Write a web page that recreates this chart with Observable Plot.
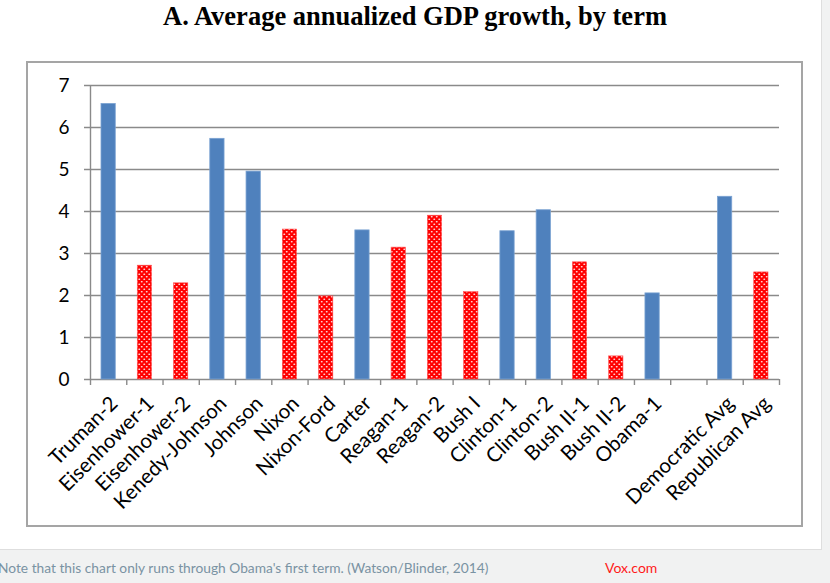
<!DOCTYPE html>
<html>
<head>
<meta charset="utf-8">
<script src="https://cdn.jsdelivr.net/npm/d3@7"></script>
<script src="https://cdn.jsdelivr.net/npm/@observablehq/plot@0.6"></script>
<style>
  body { margin:0; width:830px; height:583px; overflow:hidden; background:#f1f2f2; position:relative; }
  #panel { position:absolute; left:0; top:0; width:821px; height:549px; background:#fff; border-right:1px solid #dedede; border-bottom:1px solid #dedede; }
  #title { position:absolute; left:0; top:1px; width:830px; text-align:center; font:bold 26.5px "Liberation Serif", serif; color:#000; }
  #frame { position:absolute; left:26px; top:61px; width:777px; height:466px; box-sizing:border-box; border:2px solid #a5a5a5; background:#fff; }
  #chart { position:absolute; left:28px; top:63px; }
  #caption { position:absolute; left:-2px; top:559px; font:13.75px Lato, sans-serif; color:#7a93a3; white-space:nowrap; }
  #credit { position:absolute; left:605px; top:559px; font:14px Lato, sans-serif; color:#ff1a1a; }
</style>
</head>
<body>
<div id="panel"></div>
<div id="title">A. Average annualized GDP growth, by term</div>
<div id="frame"></div>
<div id="chart"></div>
<div id="caption">Note that this chart only runs through Obama's first term. (Watson/Blinder, 2014)</div>
<div id="credit">Vox.com</div>
<script>
const terms = ["Truman-2","Eisenhower-1","Eisenhower-2","Kenedy-Johnson","Johnson","Nixon","Nixon-Ford","Carter","Reagan-1","Reagan-2","Bush I","Clinton-1","Clinton-2","Bush II-1","Bush II-2","Obama-1","","Democratic Avg","Republican Avg"];
const growth = [6.56, 2.71, 2.29, 5.73, 4.95, 3.57, 1.98, 3.55, 3.14, 3.90, 2.08, 3.53, 4.03, 2.79, 0.55, 2.05, null, 4.35, 2.55];
const party = ["D","R","R","D","D","R","R","D","R","R","R","D","D","R","R","D","","D","R"];
const yTicks = [0,1,2,3,4,5,6,7];

const data = terms.map((t, i) => ({i, term: t, value: growth[i], party: party[i]}));
const dem = data.filter(d => d.party === "D");
const rep = data.filter(d => d.party === "R");

const NS = "http://www.w3.org/2000/svg";
function defs() {
  const g = document.createElementNS(NS, "defs");
  const p = document.createElementNS(NS, "pattern");
  p.setAttribute("id", "reddots");
  p.setAttribute("patternUnits", "userSpaceOnUse");
  p.setAttribute("width", "5");
  p.setAttribute("height", "5");
  const r = document.createElementNS(NS, "rect");
  r.setAttribute("width", "5"); r.setAttribute("height", "5"); r.setAttribute("fill", "#ff0000");
  p.appendChild(r);
  for (const [cx, cy] of [[1.25, 1.25], [3.75, 3.75]]) {
    const e = document.createElementNS(NS, "ellipse");
    e.setAttribute("cx", cx); e.setAttribute("cy", cy);
    e.setAttribute("rx", "1.0"); e.setAttribute("ry", "0.7");
    e.setAttribute("fill", "#ffe6e6");
    p.appendChild(e);
  }
  g.appendChild(p);
  return g;
}

const gray = "#8a8a8a";
const chart = Plot.plot({
  width: 773,
  height: 462,
  marginLeft: 62,
  marginRight: 22,
  marginTop: 22,
  marginBottom: 146,
  style: {fontFamily: "Lato, sans-serif", background: "transparent", overflow: "visible"},
  x: {type: "linear", domain: [0, terms.length], axis: null},
  y: {domain: [0, 7], axis: null},
  marks: [
    defs,
    Plot.gridY(yTicks, {stroke: gray, strokeOpacity: 1, strokeWidth: 1.4, x1: 0, x2: terms.length, insetLeft: -6}),
    Plot.rectY(dem, {x1: "i", x2: d => d.i + 1, y: "value", insetLeft: 11, insetRight: 11, fill: "#4f81bd", stroke: "#7aa2d2", strokeWidth: 0.8}),
    Plot.rectY(rep, {x1: "i", x2: d => d.i + 1, y: "value", insetLeft: 11, insetRight: 11, fill: "url(#reddots)", stroke: "#ff5050", strokeWidth: 0.6}),
    Plot.ruleX([0], {y1: 0, y2: 7, stroke: gray, strokeWidth: 1.4}),
    Plot.axisY({ticks: yTicks, tickSize: 6, tickPadding: 15, stroke: gray, fontSize: 19, fill: "#000", tickFormat: d => String(d), label: null}),
    Plot.axisX({ticks: d3.range(terms.length + 1), tickSize: 6, stroke: gray, strokeWidth: 1.4, tickFormat: () => "", label: null}),
    Plot.text(data, {x: d => d.i + 0.5, y: 0, text: "term", rotate: -45, textAnchor: "end", lineAnchor: "top", dx: 0, dy: 15, fontSize: 20.5, fill: "#000"})
  ]
});
document.getElementById("chart").appendChild(chart);
</script>
</body>
</html>
